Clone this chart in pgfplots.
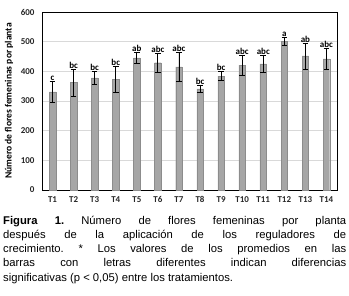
\documentclass[border=0pt]{standalone}
\usepackage{pgfplots}
\pgfplotsset{compat=1.18}
\usepackage{pgfplotstable}
\usepackage{fontspec}
\setmainfont{Liberation Sans}
\newfontfamily\calibri{Carlito}
\pgfplotstableread{
x y e lab
1 331 36 c
2 362 45 bc
3 378 21 bc
4 374 43 bc
5 445 19 ab
6 429 32 abc
7 415 48 abc
8 341 13 bc
9 384 15 bc
10 421 33 abc
11 425 28 abc
12 501 13 a
13 452 44 ab
14 442 35 abc
}\datatable
\pgfplotstableread{
x t lab
1 367 c
2 407 bc
3 399 bc
4 417 bc
5 464 ab
6 461 abc
7 463 abc
8 354 bc
9 399 bc
10 454 abc
11 453 abc
12 514 a
13 496 ab
14 477 abc
}\labtable
\begin{document}
\begin{tikzpicture}
\begin{axis}[name=ax,
  scale only axis, width=295bp, height=178bp,
  xmin=0.5, xmax=14.5, ymin=0, ymax=600,
  xtick={1,...,14},
  xticklabels={T1,T2,T3,T4,T5,T6,T7,T8,T9,T10,T11,T12,T13,T14},
  ytick={0,100,...,600},
  major tick length=0pt,
  ymajorgrids, grid style={draw=black!15, line width=0.6pt},
  axis line style={black, line width=0.6pt},
  /pgf/number format/assume math mode=true,
  ticklabel style={font=\calibri\bfseries\fontsize{9}{10}\selectfont, text=black!85},
  yticklabel style={xshift=-4bp},
  xticklabel style={yshift=-3bp},
  ylabel={Número de flores femeninas por planta},
  ylabel style={font=\calibri\bfseries\fontsize{9.6}{10}\selectfont, yshift=1bp},
  clip=false,
]
\addplot[ybar, bar width=0.31, fill=black!35, draw=black!45, line width=0.4pt,
  error bars/.cd, y dir=both, y explicit,
  error bar style={black, line width=0.8pt},
  error mark options={rotate=90, mark size=2.8bp, black, line width=0.6pt}]
  table[x=x, y=y, y error=e] {\datatable};
\addplot[draw=none, mark=none,
  nodes near coords, point meta=explicit symbolic,
  every node near coord/.append style={font=\calibri\bfseries\fontsize{9}{10}\selectfont, anchor=south, yshift=-1bp, inner sep=1.5bp}]
  table[x=x, y=t, meta=lab] {\labtable};
\end{axis}
\path ([shift={(-42bp,-106bp)}]ax.south west) rectangle ([shift={(12bp,12bp)}]ax.north east);
\node[anchor=north west, inner sep=0pt, text width=343bp, align=justify,
  font=\fontsize{11.3}{14.2}\selectfont]
  at ([shift={(-39bp,-26bp)}]ax.south west)
  {\frenchspacing\textbf{Figura 1.} Número de flores femeninas por planta\linebreak
  después de la aplicación de los reguladores de\linebreak
  crecimiento. * Los valores de los promedios en las\linebreak
  barras con letras diferentes indican diferencias\linebreak
  significativas (p < 0,05) entre los tratamientos.};
\end{tikzpicture}
\end{document}
